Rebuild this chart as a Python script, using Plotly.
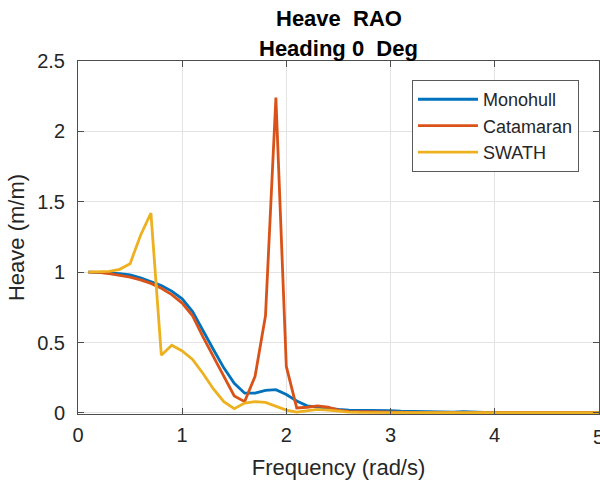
import plotly.graph_objects as go

freq = [round(0.1 * i, 1) for i in range(1, 51)]

monohull = [1.0, 1.0, 0.995, 0.99, 0.98, 0.96, 0.935, 0.905, 0.865, 0.81,
            0.72, 0.58, 0.45, 0.32, 0.21, 0.14, 0.14, 0.16, 0.165, 0.13,
            0.085, 0.05, 0.04, 0.03, 0.025, 0.02, 0.02, 0.015, 0.015, 0.015,
            0.012, 0.01, 0.008, 0.006, 0.005, 0.006, 0.008, 0.004, 0.003, 0.002,
            0.002, 0.001, 0.001, 0.001, 0.001, 0.001, 0.001, 0.001, 0.001, 0.001]

catamaran = [1.0, 0.998, 0.99, 0.98, 0.965, 0.945, 0.92, 0.885, 0.84, 0.78,
             0.69, 0.54, 0.40, 0.26, 0.12, 0.08, 0.26, 0.69, 2.24, 0.33,
             0.035, 0.04, 0.05, 0.04, 0.02, 0.01, 0.008, 0.006, 0.005, 0.004,
             0.003, 0.003, 0.002, 0.002, 0.002, 0.001, 0.001, 0.001, 0.001, 0.001,
             0.001, 0.001, 0.001, 0.001, 0.001, 0.001, 0.001, 0.001, 0.001, 0.001]

swath = [1.0, 1.0, 1.005, 1.02, 1.06, 1.26, 1.42, 0.41, 0.48, 0.44,
         0.38, 0.28, 0.17, 0.08, 0.03, 0.07, 0.08, 0.075, 0.045, 0.02,
         0.005, 0.015, 0.025, 0.02, 0.01, 0.005, 0.003, 0.002, 0.002, 0.002,
         0.002, 0.002, 0.002, 0.002, 0.002, 0.002, 0.002, 0.002, 0.002, 0.002,
         0.002, 0.002, 0.002, 0.002, 0.002, 0.002, 0.002, 0.002, 0.002, 0.002]

names = ["Monohull", "Catamaran", "SWATH"]
colors = ["#0072BD", "#D95319", "#EDB120"]
x_ticks = [0, 1, 2, 3, 4, 5]
y_ticks = [0, 0.5, 1, 1.5, 2, 2.5]
y_tick_text = ["0", "0.5", "1", "1.5", "2", "2.5"]

FONT = "Liberation Sans, Arial, sans-serif"

fig = go.Figure()
for name, ys, c in zip(names, [monohull, catamaran, swath], colors):
    fig.add_trace(go.Scatter(x=freq, y=ys, mode="lines", name=name,
                             line=dict(color=c, width=2.8)))

axis_common = dict(
    showline=True, linecolor="#4d4d4d", linewidth=1, mirror="allticks",
    ticks="inside", ticklen=6, tickcolor="#4d4d4d", tickwidth=1,
    showgrid=True, gridcolor="#e3e3e3", gridwidth=1, zeroline=False,
    tickfont=dict(family=FONT, size=20, color="#262626"),
)

fig.update_layout(
    width=600, height=481,
    margin=dict(l=78, r=1, t=61, b=67),
    paper_bgcolor="white", plot_bgcolor="white",
    font=dict(family=FONT, color="#262626"),
    xaxis=dict(range=[0, 5.002], tickvals=x_ticks, ticklabelstandoff=3,
               title=dict(text="Frequency (rad/s)", font=dict(size=22), standoff=14),
               **axis_common),
    yaxis=dict(range=[-0.008, 2.5], tickvals=y_ticks, ticktext=y_tick_text,
               ticklabelstandoff=8,
               title=dict(text="Heave (m/m)", font=dict(size=22), standoff=6),
               **axis_common),
    legend=dict(x=0.641, y=0.946, xanchor="left", yanchor="top",
                bgcolor="white", bordercolor="#5a5a5a", borderwidth=1,
                font=dict(family=FONT, size=18, color="#262626"),
                itemwidth=60, tracegroupgap=0),
    showlegend=True,
)

# last x tick label (clipped at the page edge, as in the reference)
fig.add_annotation(text=str(x_ticks[-1]), xref="x", yref="paper",
                   x=x_ticks[-1], y=0, yanchor="middle", yshift=-23,
                   showarrow=False,
                   font=dict(family=FONT, size=20, color="#262626"))

fig.add_annotation(text="<b>Heave \u00a0RAO</b>", xref="paper", yref="paper",
                   x=0.5, y=1, yanchor="middle", yshift=43, showarrow=False,
                   font=dict(family=FONT, size=22, color="black"))
fig.add_annotation(text="<b>Heading 0 \u00a0Deg</b>", xref="paper", yref="paper",
                   x=0.5, y=1, yanchor="middle", yshift=13, showarrow=False,
                   font=dict(family=FONT, size=22, color="black"))

fig.write_html("out.html")
